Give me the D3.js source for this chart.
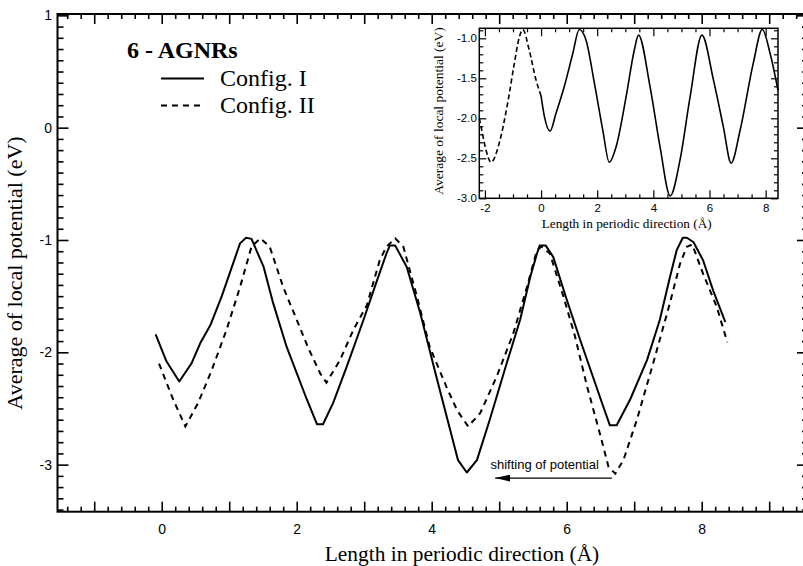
<!DOCTYPE html>
<html>
<head>
<meta charset="utf-8">
<script src="https://cdn.jsdelivr.net/npm/d3@7"></script>
<style>
  body { margin: 0; background: #fff; }
  svg { display: block; }
</style>
</head>
<body>
<div id="chart"></div>
<script>
// main plot: Config. I (solid)
let configI_x = [-0.09, 0.07, 0.26, 0.44, 0.57, 0.72, 0.89, 1.04, 1.16, 1.25, 1.33, 1.51, 1.65, 1.85, 2.15,
  2.30, 2.39, 2.54, 2.74, 2.99, 3.19, 3.33, 3.38, 3.46, 3.63, 3.83, 4.07, 4.39, 4.52, 4.67, 4.86,
  5.11, 5.31, 5.46, 5.56, 5.60, 5.69, 5.80, 6.00, 6.20, 6.39, 6.54, 6.64, 6.74, 6.94, 7.19, 7.38,
  7.53, 7.63, 7.72, 7.78, 7.88, 8.02, 8.17, 8.35]
let configI_y = [-1.84, -2.08, -2.26, -2.10, -1.92, -1.76, -1.50, -1.24, -1.03, -0.98, -0.99, -1.24, -1.56, -1.95, -2.42,
  -2.64, -2.64, -2.45, -2.13, -1.71, -1.36, -1.12, -1.05, -1.05, -1.24, -1.65, -2.22, -2.96, -3.07, -2.96, -2.60,
  -2.10, -1.71, -1.33, -1.12, -1.05, -1.05, -1.15, -1.53, -1.89, -2.22, -2.48, -2.65, -2.65, -2.42, -2.07, -1.71,
  -1.33, -1.09, -0.98, -0.98, -1.02, -1.18, -1.45, -1.73]

// main plot: Config. II (dashed)
let configII_x = [-0.04, 0.17, 0.35, 0.54, 0.74, 0.96, 1.16, 1.33, 1.46, 1.60, 1.80, 2.00, 2.17, 2.35, 2.44,
  2.64, 2.84, 3.04, 3.23, 3.33, 3.46, 3.58, 3.78, 3.97, 4.22, 4.38, 4.54, 4.72, 4.96, 5.21, 5.41,
  5.56, 5.63, 5.75, 5.95, 6.12, 6.30, 6.49, 6.62, 6.72, 6.84, 7.04, 7.28, 7.53, 7.68, 7.78, 7.86,
  8.02, 8.22, 8.38]
let configII_y = [-2.10, -2.42, -2.66, -2.45, -2.16, -1.80, -1.42, -1.06, -0.985, -1.06, -1.42, -1.71, -1.96, -2.19, -2.27,
  -2.07, -1.80, -1.58, -1.18, -1.06, -0.985, -1.06, -1.50, -1.95, -2.31, -2.52, -2.66, -2.54, -2.22, -1.83, -1.42,
  -1.09, -1.06, -1.12, -1.50, -1.85, -2.30, -2.72, -3.02, -3.08, -2.96, -2.60, -2.10, -1.56, -1.21, -1.06, -1.04,
  -1.30, -1.59, -1.91]

// inset: solid part and dashed part
let insetSolid_x = [0.00, 0.12, 0.32, 0.53, 0.83, 1.13, 1.36, 1.60, 1.90, 2.20, 2.43, 2.67, 3.03, 3.32, 3.47,
  3.88, 4.24, 4.60, 4.95, 5.31, 5.73, 6.14, 6.49, 6.77, 7.09, 7.56, 7.88, 8.16, 8.44]
let insetSolid_y = [-1.72, -1.98, -2.16, -1.94, -1.60, -1.19, -0.89, -1.02, -1.56, -2.15, -2.55, -2.36, -1.73, -1.15, -0.96,
  -1.60, -2.36, -2.97, -2.52, -1.73, -0.96, -1.52, -2.10, -2.56, -2.15, -1.31, -0.89, -1.19, -1.65]
let insetDash_x = [-2.2, -2.14, -1.96, -1.78, -1.49, -1.19, -0.95, -0.77, -0.65, -0.42, -0.18, 0.00]
let insetDash_y = [-2.0, -2.10, -2.40, -2.55, -2.31, -1.81, -1.31, -0.98, -0.89, -1.15, -1.52, -1.72]

// ticks
let xMajor = [-1, 0, 1, 2, 3, 4, 5, 6, 7, 8, 9]
let yMajor = [-3, -2, -1, 0, 1]
let insetXMajor = [-2, 0, 2, 4, 6, 8]
let insetYMajor = [-3.0, -2.5, -2.0, -1.5, -1.0]

let legendLabels = ["Config. I", "Config. II"]

let width = 803, height = 566
let serif = "'Liberation Serif', 'Times New Roman', serif"
let sans = "'Liberation Sans', Arial, Helvetica, sans-serif"

let svg = d3.select("#chart").append("svg")
    .attr("width", width)
    .attr("height", height)

// main scales
let x = d3.scaleLinear().domain([-1.544, 9.575]).range([57.5, 808])
let y = d3.scaleLinear().domain([-3.419, 1.012]).range([511.7, 14])

let range = (a, b, s) => d3.range(Math.round(a / s), Math.round(b / s) + 1).map(i => +(i * s).toFixed(3))
let xMinor = range(-1.4, 9.4, 0.2).filter(v => !xMajor.includes(v))
let yMinor = range(-3.4, 1.0, 0.1).filter(v => !yMajor.includes(v))

let axes = svg.append("g")
    .attr("fill", "none")

function styleAxis(g) {
  g.select(".domain").remove()
  g.selectAll(".tick line").attr("stroke", "#000").attr("stroke-width", 1.6)
  g.selectAll(".tick text").attr("fill", "#000").attr("font-family", sans)
}

// bottom axis
axes.append("g").attr("transform", `translate(0,${y.range()[0]})`)
    .call(d3.axisBottom(x).tickValues(xMinor).tickSize(-5).tickFormat(""))
    .call(styleAxis)
axes.append("g").attr("transform", `translate(0,${y.range()[0]})`)
    .call(d3.axisBottom(x).tickValues(xMajor).tickSize(-10).tickPadding(12.5)
      .tickFormat(d => d % 2 === 0 ? String(d) : ""))
    .call(styleAxis)
    .selectAll("text").attr("font-size", 14)
// top axis
axes.append("g").attr("transform", `translate(0,${y.range()[1]})`)
    .call(d3.axisTop(x).tickValues(xMinor).tickSize(-5).tickFormat(""))
    .call(styleAxis)
axes.append("g").attr("transform", `translate(0,${y.range()[1]})`)
    .call(d3.axisTop(x).tickValues(xMajor).tickSize(-10).tickFormat(""))
    .call(styleAxis)
// left axis
axes.append("g").attr("transform", `translate(${x.range()[0]},0)`)
    .call(d3.axisLeft(y).tickValues(yMinor).tickSize(-6).tickFormat(""))
    .call(styleAxis)
axes.append("g").attr("transform", `translate(${x.range()[0]},0)`)
    .call(d3.axisLeft(y).tickValues(yMajor).tickSize(-11).tickPadding(5.5).tickFormat(d => String(d)))
    .call(styleAxis)
    .selectAll("text").attr("font-size", 14)
// right axis
axes.append("g").attr("transform", `translate(${x.range()[1]},0)`)
    .call(d3.axisRight(y).tickValues(yMinor).tickSize(-6).tickFormat(""))
    .call(styleAxis)
axes.append("g").attr("transform", `translate(${x.range()[1]},0)`)
    .call(d3.axisRight(y).tickValues(yMajor).tickSize(-11).tickFormat(""))
    .call(styleAxis)

// frame
svg.append("rect")
    .attr("x", x.range()[0])
    .attr("y", y.range()[1])
    .attr("width", x.range()[1] - x.range()[0])
    .attr("height", y.range()[0] - y.range()[1])
    .attr("fill", "none")
    .attr("stroke", "#000")
    .attr("stroke-width", 2)

// curves
let line = d3.line()
    .x(d => x(d[0]))
    .y(d => y(d[1]))

svg.append("path")
    .datum(d3.zip(configI_x, configI_y))
    .attr("d", line)
    .attr("fill", "none")
    .attr("stroke", "#000")
    .attr("stroke-width", 2)
    .attr("stroke-linejoin", "round")

svg.append("path")
    .datum(d3.zip(configII_x, configII_y))
    .attr("d", line)
    .attr("fill", "none")
    .attr("stroke", "#000")
    .attr("stroke-width", 2)
    .attr("stroke-dasharray", "6,5")

// axis titles
svg.append("text")
    .attr("x", 462)
    .attr("y", 561)
    .attr("text-anchor", "middle")
    .attr("font-family", serif)
    .attr("font-size", 21.4)
    .text("Length in periodic direction (Å)")

svg.append("text")
    .attr("transform", "translate(22,273) rotate(-90)")
    .attr("text-anchor", "middle")
    .attr("font-family", serif)
    .attr("font-size", 22)
    .text("Average of local potential (eV)")

// legend
svg.append("text")
    .attr("x", 127)
    .attr("y", 58)
    .attr("font-family", serif)
    .attr("font-size", 24)
    .attr("font-weight", "bold")
    .text("6 - AGNRs")

let legend = svg.append("g")
legendLabels.forEach(function(lbl, i) {
  let ly = 78.5 + i * 27
  legend.append("line")
      .attr("x1", 161).attr("x2", 204)
      .attr("y1", ly).attr("y2", ly)
      .attr("stroke", "#000")
      .attr("stroke-width", 2)
      .attr("stroke-dasharray", i === 0 ? null : "6,5")
  legend.append("text")
      .attr("x", 220)
      .attr("y", ly + 7)
      .attr("font-family", serif)
      .attr("font-size", 24)
      .text(lbl)
})

// annotation arrow
svg.append("defs").append("marker")
    .attr("id", "head")
    .attr("viewBox", "0 0 15 7")
    .attr("refX", 0).attr("refY", 3.5)
    .attr("markerWidth", 15).attr("markerHeight", 7)
    .attr("markerUnits", "userSpaceOnUse")
    .attr("orient", "auto")
  .append("path")
    .attr("d", "M0,3.5L15,0L15,7Z")
    .attr("fill", "#000")

svg.append("line")
    .attr("x1", x(4.94)).attr("x2", x(6.67))
    .attr("y1", y(-3.12)).attr("y2", y(-3.12))
    .attr("stroke", "#000")
    .attr("stroke-width", 1.2)
    .attr("marker-start", "url(#head)")

svg.append("text")
    .attr("x", x(4.87))
    .attr("y", y(-3.04))
    .attr("font-family", sans)
    .attr("font-size", 13)
    .text("shifting of potential")

// ---- inset ----
let ix = d3.scaleLinear().domain([-2.2, 8.44]).range([479.3, 778])
let iy = d3.scaleLinear().domain([-3.0, -0.875]).range([198.3, 28.3])

let inset = svg.append("g")

inset.append("rect")
    .attr("x", ix.range()[0]).attr("y", iy.range()[1])
    .attr("width", ix.range()[1] - ix.range()[0])
    .attr("height", iy.range()[0] - iy.range()[1])
    .attr("fill", "#fff")

let ixMinor = range(-2.0, 8.0, 0.5).filter(v => !insetXMajor.includes(v))
let iyMinor = range(-3.0, -0.9, 0.1).filter(v => !insetYMajor.some(m => Math.abs(m - v) < 1e-6))

function styleInset(g) {
  g.select(".domain").remove()
  g.selectAll(".tick line").attr("stroke", "#000").attr("stroke-width", 1.2)
  g.selectAll(".tick text").attr("fill", "#000").attr("font-family", sans).attr("font-size", 11.5)
}

inset.append("g").attr("transform", `translate(0,${iy.range()[0]})`)
    .call(d3.axisBottom(ix).tickValues(ixMinor).tickSize(-4).tickFormat(""))
    .call(styleInset)
inset.append("g").attr("transform", `translate(0,${iy.range()[0]})`)
    .call(d3.axisBottom(ix).tickValues(insetXMajor).tickSize(-8).tickPadding(6).tickFormat(d => String(d)))
    .call(styleInset)
inset.append("g").attr("transform", `translate(0,${iy.range()[1]})`)
    .call(d3.axisTop(ix).tickValues(ixMinor).tickSize(-4).tickFormat(""))
    .call(styleInset)
inset.append("g").attr("transform", `translate(0,${iy.range()[1]})`)
    .call(d3.axisTop(ix).tickValues(insetXMajor).tickSize(-8).tickFormat(""))
    .call(styleInset)
inset.append("g").attr("transform", `translate(${ix.range()[0]},0)`)
    .call(d3.axisLeft(iy).tickValues(iyMinor).tickSize(-4).tickFormat(""))
    .call(styleInset)
inset.append("g").attr("transform", `translate(${ix.range()[0]},0)`)
    .call(d3.axisLeft(iy).tickValues(insetYMajor).tickSize(-7).tickPadding(2.5).tickFormat(d => d.toFixed(1)))
    .call(styleInset)
inset.append("g").attr("transform", `translate(${ix.range()[1]},0)`)
    .call(d3.axisRight(iy).tickValues(iyMinor).tickSize(-4).tickFormat(""))
    .call(styleInset)
inset.append("g").attr("transform", `translate(${ix.range()[1]},0)`)
    .call(d3.axisRight(iy).tickValues(insetYMajor).tickSize(-7).tickFormat(""))
    .call(styleInset)

inset.append("rect")
    .attr("x", ix.range()[0]).attr("y", iy.range()[1])
    .attr("width", ix.range()[1] - ix.range()[0])
    .attr("height", iy.range()[0] - iy.range()[1])
    .attr("fill", "none")
    .attr("stroke", "#000")
    .attr("stroke-width", 1.5)

let iline = d3.line()
    .x(d => ix(d[0]))
    .y(d => iy(d[1]))
    .curve(d3.curveMonotoneX)

inset.append("path")
    .datum(d3.zip(insetSolid_x, insetSolid_y))
    .attr("d", iline)
    .attr("fill", "none")
    .attr("stroke", "#000")
    .attr("stroke-width", 1.6)

inset.append("path")
    .datum(d3.zip(insetDash_x, insetDash_y))
    .attr("d", iline)
    .attr("fill", "none")
    .attr("stroke", "#000")
    .attr("stroke-width", 1.6)
    .attr("stroke-dasharray", "5,3")

inset.append("text")
    .attr("x", 626.7)
    .attr("y", 228)
    .attr("text-anchor", "middle")
    .attr("font-family", serif)
    .attr("font-size", 13.25)
    .text("Length in periodic direction (Å)")

inset.append("text")
    .attr("transform", "translate(443,111) rotate(-90)")
    .attr("text-anchor", "middle")
    .attr("font-family", serif)
    .attr("font-size", 13.5)
    .text("Average of local potential (eV)")
</script>
</body>
</html>
